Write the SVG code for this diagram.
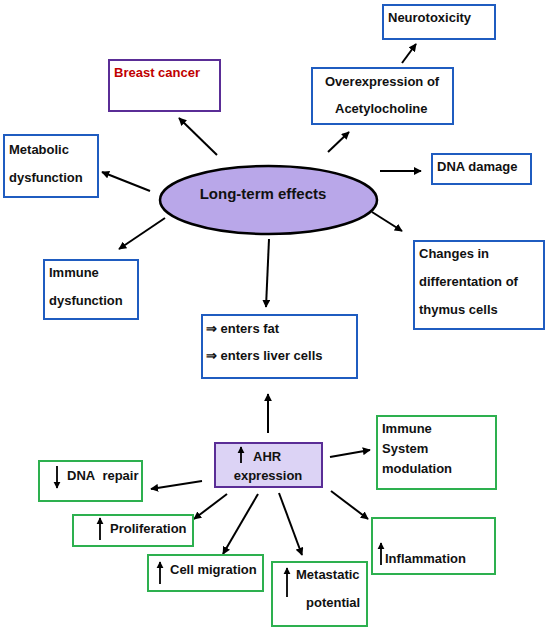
<svg xmlns="http://www.w3.org/2000/svg" width="550" height="630" viewBox="0 0 550 630">
<defs>
<marker id="ah" viewBox="0 0 10 10" refX="9" refY="5" markerWidth="4" markerHeight="4" orient="auto" markerUnits="strokeWidth">
<path d="M0,0 L10,5 L0,10 z" fill="#000"/>
</marker>
<style>
text{font-family:"Liberation Sans",Arial,sans-serif;font-weight:bold;font-size:13px;fill:#111}
.blue{fill:#fff;stroke:#1f5cc0;stroke-width:2}
.green{fill:#fff;stroke:#2db04f;stroke-width:2}
.purple{fill:#fff;stroke:#5a2d96;stroke-width:2}
.conn line{stroke:#000;stroke-width:2;marker-end:url(#ah)}
.ua{stroke:#000;stroke-width:1.8;marker-end:url(#ah)}
</style>
</defs>
<rect width="550" height="630" fill="#fff"/>

<g class="conn" id="connectors">
<line x1="217" y1="155" x2="179" y2="118"/>
<line x1="150" y1="191" x2="102" y2="172"/>
<line x1="328" y1="152" x2="349" y2="132"/>
<line x1="402" y1="63" x2="416" y2="44"/>
<line x1="380" y1="171" x2="421" y2="171"/>
<line x1="372" y1="212" x2="402" y2="231"/>
<line x1="165" y1="218" x2="119" y2="249"/>
<line x1="269" y1="239" x2="266" y2="307"/>
<line x1="268" y1="433" x2="268" y2="394"/>
<line x1="330" y1="457" x2="370" y2="450"/>
<line x1="331" y1="491" x2="368" y2="519"/>
<line x1="279" y1="493" x2="302" y2="555"/>
<line x1="202" y1="481" x2="151" y2="489"/>
<line x1="227" y1="494" x2="194" y2="519"/>
<line x1="258" y1="494" x2="223" y2="554"/>
</g>

<g id="long-term">
<ellipse cx="268.5" cy="200" rx="108.5" ry="34" fill="#b9a7e9" stroke="#000" stroke-width="2.5"/>
<text x="263" y="199" text-anchor="middle" style="font-size:15px">Long-term effects</text>
</g>

<g id="breast-cancer">
<rect class="purple" x="109" y="60" width="111" height="51"/>
<text x="114" y="77" style="fill:#c00000">Breast cancer</text>
</g>

<g id="metabolic">
<rect class="blue" x="4" y="135" width="94" height="62"/>
<text x="9" y="154">Metabolic</text>
<text x="9" y="182">dysfunction</text>
</g>

<g id="neurotoxicity">
<rect class="blue" x="383" y="5" width="112" height="34"/>
<text x="388" y="22">Neurotoxicity</text>
</g>

<g id="overexpression">
<rect class="blue" x="312" y="68" width="141" height="56"/>
<text x="325" y="86">Overexpression of</text>
<text x="335" y="113">Acetylocholine</text>
</g>

<g id="dna-damage">
<rect class="blue" x="432" y="154" width="99" height="30"/>
<text x="437" y="171">DNA damage</text>
</g>

<g id="changes">
<rect class="blue" x="414" y="241" width="130" height="88"/>
<text x="419" y="258">Changes in</text>
<text x="419" y="286">differentation of</text>
<text x="419" y="314">thymus cells</text>
</g>

<g id="immune-dysfunction">
<rect class="blue" x="44" y="260" width="94" height="59"/>
<text x="49" y="277">Immune</text>
<text x="49" y="305">dysfunction</text>
</g>

<g id="enters">
<rect class="blue" x="202" y="315" width="155" height="63"/>
<text x="206" y="333">⇒ enters fat</text>
<text x="206" y="360">⇒ enters liver cells</text>
</g>

<g id="ahr">
<rect x="215" y="443" width="107" height="44" fill="#dcd3f5" stroke="#5a2d96" stroke-width="2"/>
<line class="ua" x1="241" y1="463" x2="241" y2="447"/>
<text x="253" y="461">AHR</text>
<text x="268" y="480" text-anchor="middle">expression</text>
</g>

<g id="immune-system">
<rect class="green" x="377" y="416" width="119" height="73"/>
<text x="382" y="433">Immune</text>
<text x="382" y="453">System</text>
<text x="382" y="473">modulation</text>
</g>

<g id="inflammation">
<rect class="green" x="372" y="518" width="123" height="56"/>
<line class="ua" x1="381" y1="565" x2="381" y2="543"/>
<text x="385" y="563">Inflammation</text>
</g>

<g id="metastatic">
<rect class="green" x="272" y="562" width="95" height="64"/>
<line class="ua" x1="287" y1="597" x2="287" y2="568"/>
<text x="296" y="579">Metastatic</text>
<text x="306" y="607">potential</text>
</g>

<g id="dna-repair">
<rect class="green" x="39" y="461" width="103" height="40"/>
<line class="ua" x1="57" y1="466" x2="57" y2="488"/>
<text x="67" y="480">DNA&#160; repair</text>
</g>

<g id="proliferation">
<rect class="green" x="73" y="515" width="120" height="31"/>
<line class="ua" x1="100" y1="540" x2="100" y2="518"/>
<text x="110" y="533">Proliferation</text>
</g>

<g id="cell-migration">
<rect class="green" x="148" y="555" width="115" height="36"/>
<line class="ua" x1="160" y1="584" x2="160" y2="562"/>
<text x="170" y="574">Cell migration</text>
</g>
</svg>
